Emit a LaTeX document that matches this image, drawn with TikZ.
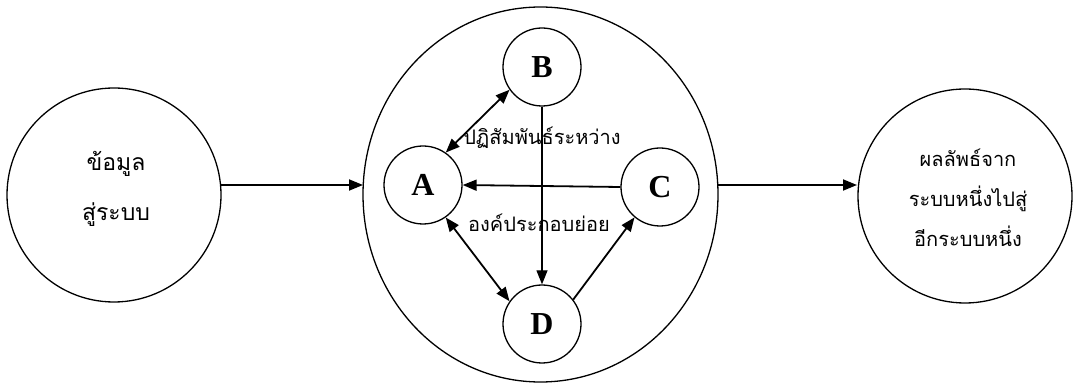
\documentclass[tikz,border=0pt]{standalone}
\usepackage{fontspec}
\setmainfont{Liberation Serif}
\newfontfamily\thaifont[Script=Thai]{Loma}
\usetikzlibrary{arrows.meta,shapes.geometric}
\begin{document}
\begin{tikzpicture}[x=1pt,y=-1pt,
  outer/.style={draw,circle,line width=1.3pt,inner sep=0pt},
  small/.style={draw,circle,line width=1.3pt,inner sep=0pt,minimum size=78pt,font=\fontsize{32}{32}\selectfont\bfseries},
  thai/.style={font=\thaifont\fontsize{20}{40}\selectfont,align=center,inner sep=0pt},
  bigthai/.style={font=\thaifont\fontsize{23}{50}\selectfont,align=center,inner sep=0pt},
  arr/.style={line width=1.8pt,-{Triangle[length=14pt,width=11pt]}},
  darr/.style={line width=1.8pt,{Triangle[length=14pt,width=11pt]}-{Triangle[length=14pt,width=11pt]}},
  thin/.style={line width=1.2pt,-{Triangle[length=14pt,width=11pt]}}]
\useasboundingbox (0,0) rectangle (1074,387);
\node[outer,minimum size=214pt] (in) at (114,195) {};
\node[bigthai] (intext) at (116,189) {ข้อมูล\\สู่ระบบ};
\node[draw,ellipse,line width=1.3pt,inner sep=0pt,minimum width=355pt,minimum height=375pt] (sys) at (540.5,194.5) {};
\node[outer,minimum size=214pt] (out) at (965,196) {};
\node[thai] (outtext) at (968,198) {ผลลัพธ์จาก\\ระบบหนึ่งไปสู่\\อีกระบบหนึ่ง};
\node[small] (A) at (423,185) {A};
\node[small] (B) at (542,67) {B};
\node[small] (C) at (660,187) {C};
\node[small] (D) at (542,324) {D};
\coordinate (inR) at (220,185);
\coordinate (sysL) at (363,185);
\coordinate (sysR) at (718,185);
\coordinate (outL) at (857,185);
\draw[arr] (inR) -- (sysL);
\draw[arr] (sysR) -- (outL);
\draw[thin] (B.south) -- (D.north);
\draw[arr] (C.west) -- (A.east);
\draw[darr] (A.55) -- (B.215);
\draw[darr] (A.-55) -- (D.145);
\draw[arr] (D.38) -- (C.230);
\node[thai] (lab1) at (542,138) {ปฏิสัมพันธ์ระหว่าง};
\node[thai] (lab2) at (539,223) {องค์ประกอบย่อย};
\end{tikzpicture}
\end{document}
